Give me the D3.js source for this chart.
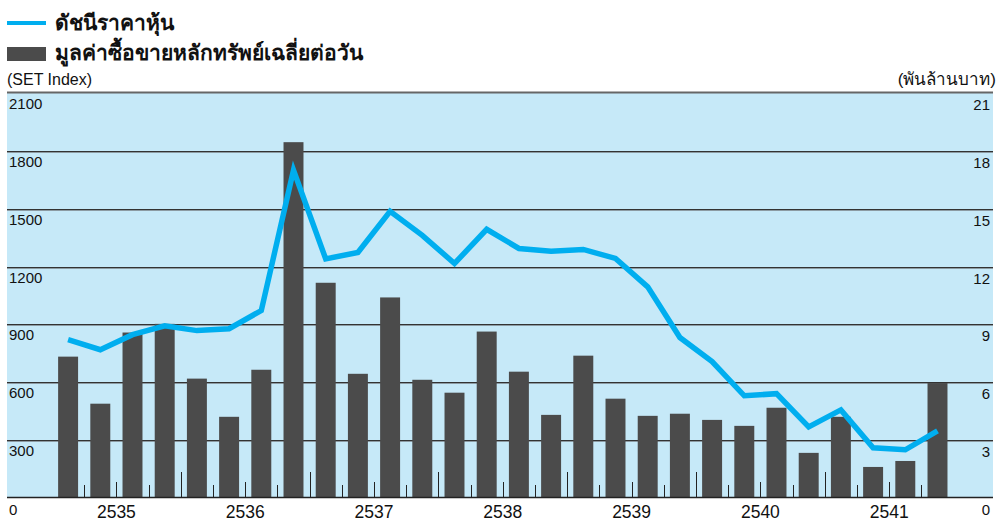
<!DOCTYPE html>
<html>
<head>
<meta charset="utf-8">
<script src="https://cdn.jsdelivr.net/npm/d3@7/dist/d3.min.js"></script>
<style>
  body { margin: 0; background: #fff; }
  svg { display: block; font-family: "Liberation Sans", Arial, sans-serif; }
</style>
</head>
<body>
<svg id="chart"></svg>
<script>
"use strict";

// Chart data (quarters 2535 - 2541)
const years = ["2535", "2536", "2537", "2538", "2539", "2540", "2541"];
const quarters = ["Q1", "Q2", "Q3", "Q4"];
const setIndex = [821, 769, 847, 893, 868, 878, 972, 1700,
                  1240, 1273, 1486, 1362, 1216, 1393, 1294, 1279,
                  1289, 1242, 1095, 832, 707, 530, 541, 369,
                  457, 260, 250, 348];
const turnover = [7.33, 4.89, 8.58, 9.03, 6.19, 4.21, 6.65, 18.45,
                  11.16, 6.44, 10.40, 6.13, 5.46, 8.63, 6.55, 4.31,
                  7.38, 5.15, 4.26, 4.37, 4.05, 3.74, 4.68, 2.34,
                  4.21, 1.61, 1.92, 5.96];
const leftTicks = [0, 300, 600, 900, 1200, 1500, 1800, 2100];
const rightTicks = [0, 3, 6, 9, 12, 15, 18, 21];

const legendLine = "ดัชนีราคาหุ้น";
const legendBar = "มูลค่าซื้อขายหลักทรัพย์เฉลี่ยต่อวัน";
const leftUnit = "(SET Index)";
const rightUnit = "(พันล้านบาท)";

// Canvas
const width = 1000;
const height = 522;
const plot = { left: 7, right: 993, top: 93, bottom: 498 };

const svg = d3.select("#chart")
    .attr("width", width)
    .attr("height", height);

const periods = years.flatMap(y => quarters.map(q => `${y} ${q}`));

// Scales
const x = d3.scaleBand()
    .domain(periods)
    .range([52, 953.6])
    .paddingInner(0.38)
    .paddingOuter(0.19);

const yLeft = d3.scaleLinear().domain([0, 2100]).range([plot.bottom, plot.top]);
const yRight = d3.scaleLinear().domain([0, 21]).range([plot.bottom, plot.top]);

// Background
svg.append("rect")
    .attr("x", plot.left)
    .attr("y", plot.top)
    .attr("width", plot.right - plot.left)
    .attr("height", plot.bottom - plot.top)
    .attr("fill", "#c6e9f8");

// Gridlines
const grid = svg.append("g");
leftTicks.filter(t => t > 0 && t < 2100).forEach(t => {
    const gy = Math.round(yLeft(t));
    grid.append("line")
        .attr("x1", plot.left).attr("x2", plot.right)
        .attr("y1", gy + 0.5).attr("y2", gy + 0.5)
        .attr("stroke", "#333").attr("stroke-width", 1);
    grid.append("line")
        .attr("x1", plot.left).attr("x2", plot.right)
        .attr("y1", gy + 1.5).attr("y2", gy + 1.5)
        .attr("stroke", "#8c9ba3").attr("stroke-width", 1);
});
grid.append("line")
    .attr("x1", plot.left).attr("x2", plot.right)
    .attr("y1", plot.top - 0.5).attr("y2", plot.top - 0.5)
    .attr("stroke", "#666").attr("stroke-width", 2);

// Bars
svg.append("g")
    .selectAll("rect")
    .data(turnover)
    .join("rect")
    .attr("x", (d, i) => x(periods[i]))
    .attr("y", d => yRight(d))
    .attr("width", x.bandwidth())
    .attr("height", d => yRight(0) - yRight(d))
    .attr("fill", "#4b4b4b");

// Bottom ticks between bars
const step = x.step();
const ticks = svg.append("g");
periods.slice(1).forEach((p, i) => {
    const tx = Math.round(x(p) + x.bandwidth() / 2 - step / 2) + 0.5;
    const q = (i + 1) % 4;
    const len = q === 0 ? 26 : (q === 2 ? 16 : 13);
    ticks.append("line")
        .attr("x1", tx).attr("x2", tx)
        .attr("y1", plot.bottom).attr("y2", plot.bottom - len)
        .attr("stroke", "#222").attr("stroke-width", 1);
});

// Baseline
svg.append("line")
    .attr("x1", plot.left).attr("x2", plot.right)
    .attr("y1", plot.bottom - 0.5).attr("y2", plot.bottom - 0.5)
    .attr("stroke", "#222").attr("stroke-width", 1.5);

// SET index line
const line = d3.line()
    .x((d, i) => x(periods[i]) + x.bandwidth() / 2)
    .y(d => yLeft(d));

svg.append("path")
    .datum(setIndex)
    .attr("d", line)
    .attr("fill", "none")
    .attr("stroke", "#00aeef")
    .attr("stroke-width", 5.5)
    .attr("stroke-linejoin", "miter");

// Left tick labels
svg.append("g")
    .selectAll("text")
    .data(leftTicks)
    .join("text")
    .attr("x", 9)
    .attr("y", d => d === 0 ? 515 : yLeft(d) + 16)
    .attr("font-size", 15)
    .attr("fill", "#111")
    .text(d => d);

// Right tick labels
svg.append("g")
    .selectAll("text")
    .data(rightTicks)
    .join("text")
    .attr("x", 990)
    .attr("y", d => d === 0 ? 515 : yRight(d) + 17)
    .attr("text-anchor", "end")
    .attr("font-size", 15)
    .attr("fill", "#111")
    .text(d => d);

// Year labels
svg.append("g")
    .selectAll("text")
    .data(years)
    .join("text")
    .attr("x", (d, i) => {
        const first = x(`${d} Q1`);
        const last = x(`${d} Q4`) + x.bandwidth();
        return (first + last) / 2;
    })
    .attr("y", 518)
    .attr("text-anchor", "middle")
    .attr("font-size", 17.5)
    .attr("fill", "#111")
    .text(d => d);

// Unit labels
svg.append("text")
    .attr("x", 7).attr("y", 85)
    .attr("font-size", 16)
    .attr("fill", "#111")
    .text(leftUnit);

svg.append("text")
    .attr("x", 996).attr("y", 85)
    .attr("text-anchor", "end")
    .attr("font-size", 17)
    .attr("fill", "#111")
    .text(rightUnit);

// Legend
const legend = svg.append("g");
legend.append("rect")
    .attr("x", 7).attr("y", 21)
    .attr("width", 39).attr("height", 4)
    .attr("fill", "#00aeef");
legend.append("text")
    .attr("x", 55).attr("y", 30)
    .attr("font-size", 21)
    .attr("font-weight", "bold")
    .attr("fill", "#111")
    .text(legendLine);

legend.append("rect")
    .attr("x", 7).attr("y", 47)
    .attr("width", 39).attr("height", 14)
    .attr("fill", "#4b4b4b");
legend.append("text")
    .attr("x", 55).attr("y", 60)
    .attr("font-size", 21)
    .attr("font-weight", "bold")
    .attr("fill", "#111")
    .text(legendBar);
</script>
</body>
</html>
